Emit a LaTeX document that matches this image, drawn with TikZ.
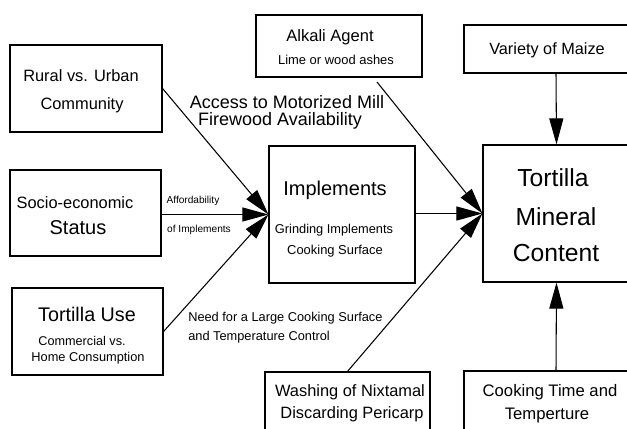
\documentclass[tikz,border=0pt]{standalone}
\usepackage{fontspec}
\setmainfont{Liberation Sans}
\usetikzlibrary{arrows.meta,fit}
\newcommand\fsz[1]{\fontsize{#1}{#1}\selectfont}
\begin{document}
\begin{tikzpicture}[x=0.75pt,y=-0.75pt,
  box/.style={draw, line width=0.85pt, inner sep=0pt},
  txt/.style={inner sep=0pt, anchor=center},
  arr/.style={line width=0.8pt, -{Triangle[length=19.5pt,width=10.5pt]}}]
\useasboundingbox (0,0) rectangle (627,428);
\fill[white] (0,0) rectangle (627,428);
\clip (0,0) rectangle (627,428);
% boxes
\node[box, fit={(10,45) (162,132)}] (rural) {};
\node[box, fit={(10,170) (161,256)}] (socio) {};
\node[box, fit={(12,288) (163,375)}] (use) {};
\node[box, fit={(256,15) (422,77)}] (alkali) {};
\node[box, fit={(464,25) (648,73)}] (variety) {};
\node[box, fit={(269,146) (415,283)}] (impl) {};
\node[box, fit={(483,145) (630,282)}] (mineral) {};
\node[box, fit={(265,372) (430,445)}] (wash) {};
\node[box, fit={(464,371) (648,445)}] (cook) {};
% box texts
\node[txt, font=\fsz{12.3}] (t1) at (81,76) {Rural vs. Urban};
\node[txt, font=\fsz{12.3}] (t2) at (82,105) {Community};
\node[txt, font=\fsz{12.3}] (t3) at (75,203) {Socio-economic};
\node[txt, font=\fsz{15}] (t4) at (78,228) {Status};
\node[txt, font=\fsz{14.8}] (t5) at (87,314) {Tortilla Use};
\node[txt, font=\fsz{9.5}] (t6) at (82,341) {Commercial vs.};
\node[txt, font=\fsz{9.6}] (t7) at (88,358) {Home Consumption};
\node[txt, font=\fsz{12.4}] (t8) at (330,37) {Alkali Agent};
\node[txt, font=\fsz{9.7}] (t9) at (336,60) {Lime or wood ashes};
\node[txt, font=\fsz{12.2}] (t10) at (547,50) {Variety of Maize};
\node[txt, font=\fsz{15}] (t11) at (335,190) {Implements};
\node[txt, font=\fsz{9.6}] (t12) at (334,230) {Grinding Implements};
\node[txt, font=\fsz{9.7}] (t13) at (335,251) {Cooking Surface};
\node[txt, font=\fsz{18.5}] (t14) at (553,178) {Tortilla};
\node[txt, font=\fsz{18.5}] (t15) at (556,217) {Mineral};
\node[txt, font=\fsz{18.5}] (t16) at (556,253) {Content};
\node[txt, font=\fsz{12.3}] (t17) at (350,392) {Washing of Nixtamal};
\node[txt, font=\fsz{12.3}] (t18) at (352,414) {Discarding Pericarp};
\node[txt, font=\fsz{12.5}] (t19) at (550,392) {Cooking Time and};
\node[txt, font=\fsz{12.5}] (t20) at (547,415) {Temperture};
% connector labels
\node[txt, font=\fsz{13.5}] (l1) at (287,102) {Access to Motorized Mill};
\node[txt, font=\fsz{13.5}] (l2) at (280,121) {Firewood Availability};
\node[txt, font=\fsz{7.6}] (l3) at (193,201) {Affordability};
\node[txt, font=\fsz{7.6}] (l4) at (199,230) {of Implements};
\node[txt, font=\fsz{9.6}, anchor=west] (l5) at (188,318) {Need for a Large Cooking Surface};
\node[txt, font=\fsz{9.6}, anchor=west] (l6) at (188,337) {and Temperature Control};
% connectors
\coordinate (a0) at (377,82);
\draw[arr] (rural.east) -- (impl.west);
\draw[arr] (socio.east |- impl.west) -- (impl.west);
\draw[arr] (use.east) -- (impl.west);
\draw[arr] (a0) -- (mineral.west);
\draw[arr] (impl.east |- mineral.west) -- (mineral.west);
\draw[arr] (wash.north) -- (mineral.west);
\draw[arr] (variety.south) -- (mineral.north);
\draw[arr] (cook.north) -- (mineral.south);
\end{tikzpicture}
\end{document}
